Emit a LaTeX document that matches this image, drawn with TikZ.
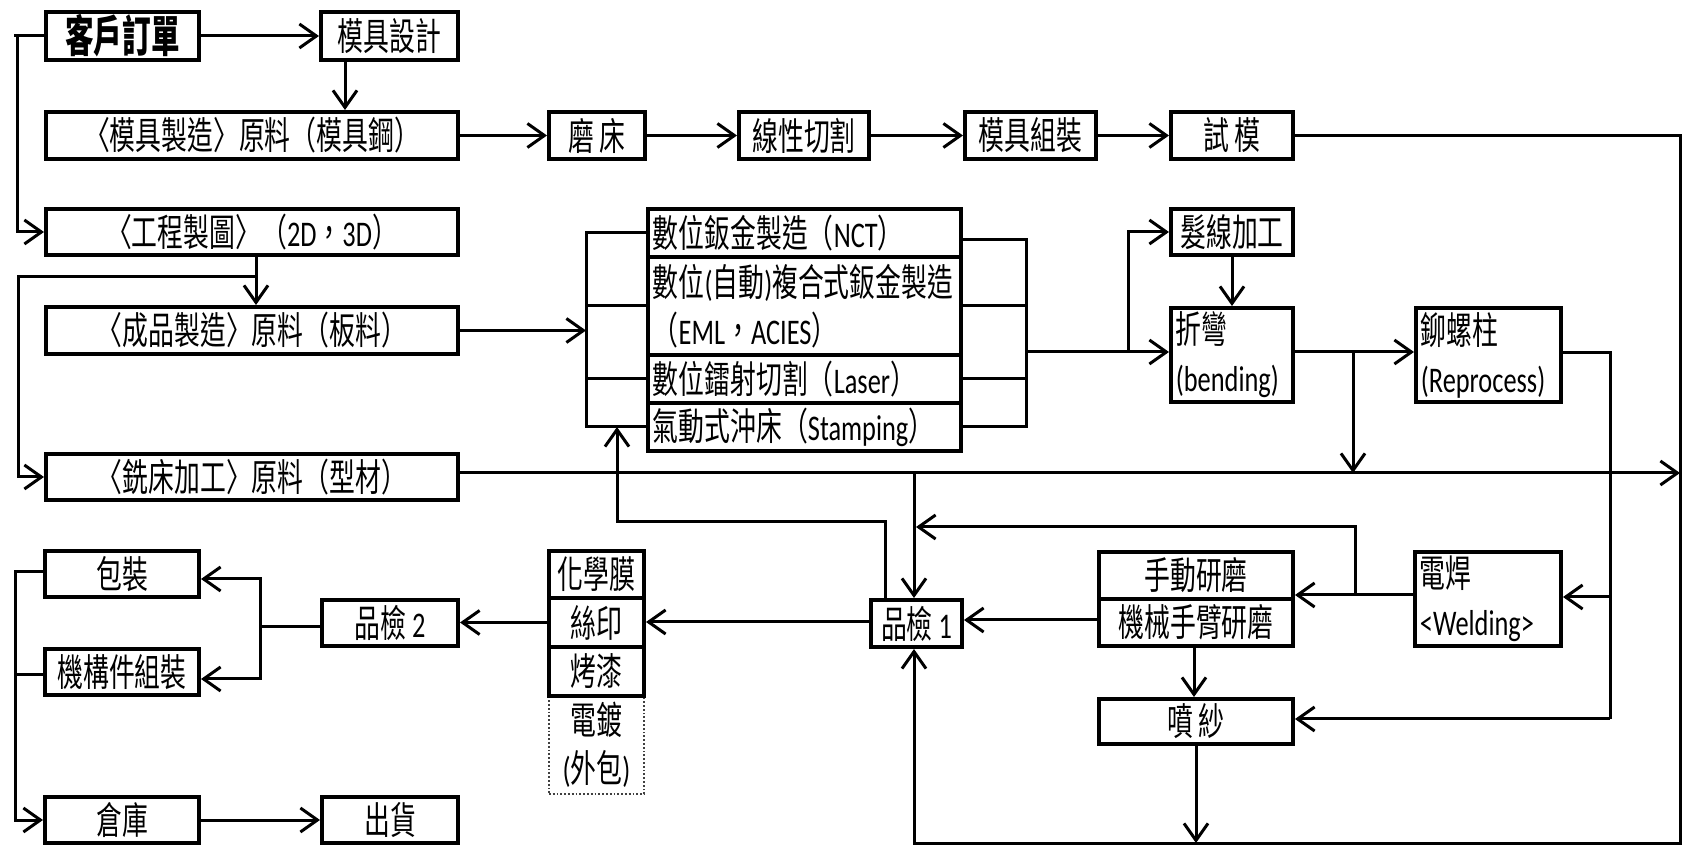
\documentclass[tikz,border=0pt]{standalone}
\usepackage{fontspec}
\setmainfont{Carlito}[FakeStretch=0.73,Scale=0.95]
\newfontfamily\cjk{Noto Sans CJK TC}[FakeStretch=0.68]
\newfontfamily\cjkb{Noto Sans CJK TC}[FakeStretch=0.65]
\usetikzlibrary{arrows.meta}
\newcommand\myfs{\fontsize{19pt}{24pt}\selectfont}
\newcommand\lat[1]{{\rmfamily #1}}
\begin{document}
\begin{tikzpicture}[x=0.5pt,y=-0.5pt,
  box/.style={draw, line width=1.9pt, inner sep=0pt, align=center, font=\myfs\cjk},
  wh/.style 2 args={minimum width=#1*0.5pt-1.9pt, minimum height=#2*0.5pt-1.9pt},
  sh/.style 2 args={minimum width=#1*0.5pt-1.9pt, minimum height=#2*0.5pt},
  lt/.style 2 args={text width=#1*0.5pt-1.9pt-5pt, minimum height=#2*0.5pt-1.9pt, inner xsep=2.5pt, align=left},
  slt/.style 2 args={text width=#1*0.5pt-1.9pt-5pt, minimum height=#2*0.5pt, inner xsep=2.5pt, align=left},
  dotbox/.style={draw=black!75, densely dotted, line width=0.9pt, inner sep=0pt, align=center, font=\myfs\cjk},
  conn/.style={line width=1.5pt},
  arr/.style={line width=1.5pt, -{Straight Barb[length=8.5pt, width=12pt]}},
]
\useasboundingbox (0,0) rectangle (1682,849);
% ---- nodes ----
\node[box, wh={157}{52}] (order) at (122.5,36) {\cjkb\fontsize{22pt}{24pt}\selectfont\bfseries 客戶訂單};
\node[box, wh={141}{52}] (design) at (389.5,36) {模具設計};
\node[box, wh={416}{51}] (mold) at (252,135.5) {〈模具製造〉原料（模具鋼）};
\node[box, wh={100}{51}] (grind) at (597,135.5) {磨 床};
\node[box, wh={134}{51}] (wire) at (804,135.5) {線性切割};
\node[box, wh={135}{51}] (assem) at (1030.5,135.5) {模具組裝};
\node[box, wh={126}{51}] (trial) at (1232,135.5) {試 模};
\node[box, wh={416}{50}] (eng) at (252,232) {〈工程製圖〉（\lat{2D}，\lat{3D}）};
\node[box, wh={416}{51}] (prod) at (252,330.5) {〈成品製造〉原料（板料）};
\node[box, wh={416}{50}] (mill) at (252,477) {〈銑床加工〉原料（型材）};
\node[box, slt={317}{48}] (nct) at (804.5,233) {數位鈑金製造（\lat{NCT}）};
\node[box, slt={317}{98}] (eml) at (804.5,306) {數位\lat{(}自動\lat{)}複合式鈑金製造\\（\lat{EML}，\lat{ACIES}）};
\node[box, slt={317}{48}] (laser) at (804.5,379) {數位鐳射切割（\lat{Laser}）};
\node[box, slt={317}{48}] (stamp) at (804.5,427) {氣動式沖床（\lat{Stamping}）};
\node[box, wh={126}{50}] (hair) at (1232,232) {髮線加工};
\node[box, lt={126}{98}] (bend) at (1232,355) {折彎\\\lat{(bending)}};
\node[box, lt={149}{98}] (rivet) at (1488.5,355) {鉚螺柱\\\lat{(Reprocess)}};
\node[box, lt={150}{98}] (weld) at (1488,599) {電焊\\\lat{<Welding>}};
\node[box, sh={198}{47}] (manual) at (1196,575.5) {手動研磨};
\node[box, sh={198}{47}] (robot) at (1196,622.5) {機械手臂研磨};
\node[box, wh={198}{49}] (sand) at (1196,721.5) {噴 紗};
\node[box, wh={95}{51}] (qc1) at (916.5,623.5) {品檢 \lat{1}};
\node[dotbox, sh={99}{98}] (plate) at (596.5,745) {電鍍\\\lat{(}外包\lat{)}};
\node[box, sh={99}{47}] (chem) at (596.5,574.5) {化學膜};
\node[box, sh={99}{49}] (silk) at (596.5,622.5) {絲印};
\node[box, sh={99}{49}] (paint) at (596.5,671.5) {烤漆};
\node[box, wh={140}{50}] (qc2) at (390,623) {品檢 \lat{2}};
\node[box, wh={158}{50}] (pack) at (122,574) {包裝};
\node[box, wh={158}{50}] (mech) at (122,672) {機構件組裝};
\node[box, wh={158}{50}] (store) at (122,820) {倉庫};
\node[box, wh={140}{50}] (ship) at (390,820) {出貨};
% ---- coordinates ----
\coordinate (j0) at (14,36);
\coordinate (j1) at (17,36);
\coordinate (j2) at (345,0);
\coordinate (r1) at (1680,135.5);
\coordinate (r2) at (1680,843);
\coordinate (b1) at (914,843);
\coordinate (j3) at (256,277);
\coordinate (j4) at (18,277);
\coordinate (lb1) at (586,233);
\coordinate (lb2) at (586,427);
\coordinate (rb1) at (1026,240);
\coordinate (rb2) at (1026,427);
\coordinate (rb3) at (1026,352);
\coordinate (j5) at (1128,352);
\coordinate (j6) at (1353,352);
\coordinate (j7) at (1353,473);
\coordinate (r3) at (1680,473);
\coordinate (j8) at (914,473);
\coordinate (j9) at (1610,353);
\coordinate (j10) at (1610,719);
\coordinate (j11) at (1610,597);
\coordinate (j12) at (1355,595);
\coordinate (j13) at (1355,527);
\coordinate (j14) at (916,527);
\coordinate (j15) at (0,620);
\coordinate (j16) at (1194,0);
\coordinate (b2) at (1196,843);
\coordinate (f1) at (885,522);
\coordinate (f2) at (617,522);
\coordinate (f3) at (617,427);
\coordinate (j17) at (0,622);
\coordinate (k1) at (260,627);
\coordinate (k2) at (260,579);
\coordinate (k3) at (260,679);
\coordinate (m1) at (15,572);
\coordinate (m2) at (15,820);
\coordinate (m3) at (15,675);
% ---- connectors ----
\draw[arr] (order.east) -- (design.west);
\draw[conn] (order.west) -- (j0);
\draw[arr] (j1) |- (eng.west);
\draw[arr] (design.south -| j2) -- (mold.north -| j2);
\draw[arr] (mold.east) -- (grind.west);
\draw[arr] (grind.east) -- (wire.west);
\draw[arr] (wire.east) -- (assem.west);
\draw[arr] (assem.east) -- (trial.west);
\draw[arr] (trial.east) -- (r1) -- (r2) -- (b1) -- (qc1.south -| b1);
\draw[arr] (eng.south -| j3) -- (prod.north -| j3);
\draw[arr] (j3) -- (j4) |- (mill.west);
\draw[arr] (prod.east) -- (prod.east -| lb1);
\draw[conn] (nct.west) -- (lb1) -- (lb2) -- (stamp.west);
\draw[conn] (eml.west) -- (eml.west -| lb1);
\draw[conn] (laser.west) -- (laser.west -| lb1);
\draw[conn] (nct.east |- rb1) -- (rb1) -- (rb2) -- (stamp.east);
\draw[conn] (eml.east) -- (eml.east -| rb1);
\draw[conn] (laser.east) -- (laser.east -| rb1);
\draw[arr] (rb3) -- (bend.west |- rb3);
\draw[arr] (j5) |- (hair.west);
\draw[arr] (hair.south) -- (bend.north);
\draw[arr] (bend.east |- j6) -- (rivet.west |- j6);
\draw[arr] (j6) -- (j7);
\draw[arr] (mill.east |- r3) -- (r3);
\draw[arr] (j8) -- (qc1.north -| j8);
\draw[conn] (rivet.east |- j9) -- (j9) -- (j10);
\draw[arr] (j10) -- (sand.east |- j10);
\draw[arr] (j11) -- (weld.east |- j11);
\draw[arr] (weld.west |- j12) -- (manual.east |- j12);
\draw[arr] (j12) -- (j13) -- (j14);
\draw[arr] (robot.west |- j15) -- (qc1.east |- j15);
\draw[arr] (robot.south -| j16) -- (sand.north -| j16);
\draw[arr] (sand.south -| b2) -- (b2);
\draw[arr] (qc1.north -| f1) -- (f1) -- (f2) -- (f3);
\draw[arr] (qc1.west |- j17) -- (silk.east |- j17);
\draw[arr] (silk.west) -- (qc2.east |- silk.west);
\draw[conn] (qc2.west |- k1) -- (k1);
\draw[arr] (k1) -- (k2) -- (pack.east |- k2);
\draw[arr] (k1) -- (k3) -- (mech.east |- k3);
\draw[arr] (pack.west |- m1) -- (m1) -- (m2) -- (store.west);
\draw[conn] (mech.west |- m3) -- (m3);
\draw[arr] (store.east) -- (ship.west);
\end{tikzpicture}
\end{document}
